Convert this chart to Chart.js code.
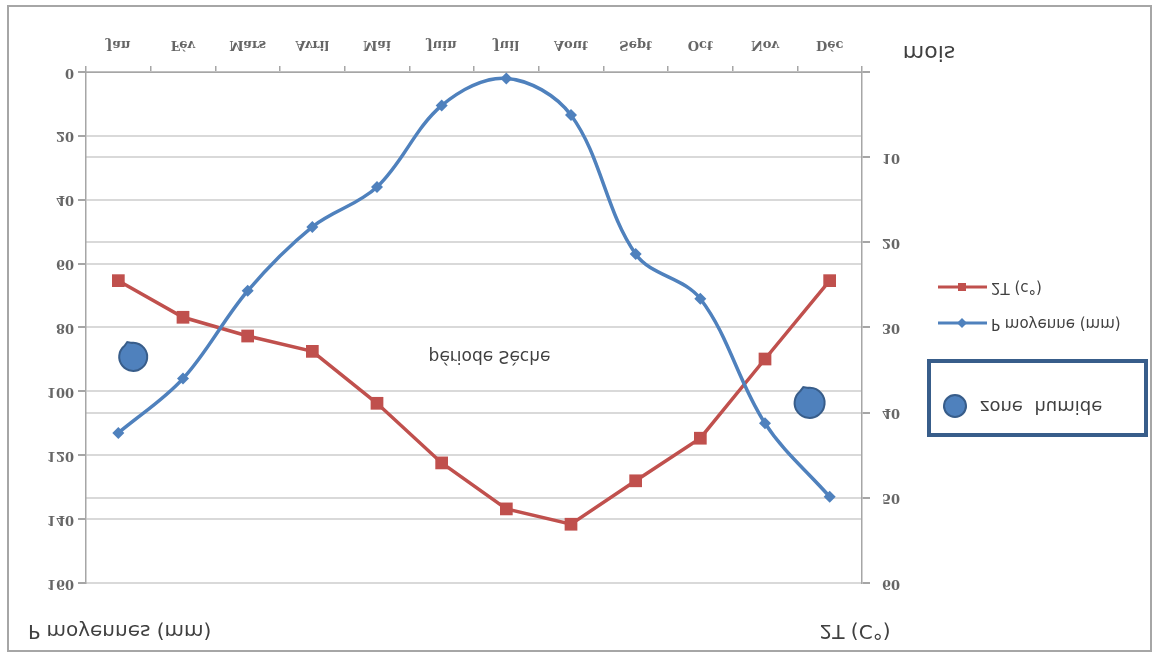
<!DOCTYPE html>
<html>
<head>
<meta charset="utf-8">
<script src="https://cdn.jsdelivr.net/npm/chart.js@4/dist/chart.umd.min.js"></script>
<style>
  body { margin: 0; background: #fff; }
  #wrap { width: 1156px; height: 657px; transform: scaleY(-1); }
</style>
</head>
<body>
<div id="wrap"><canvas id="myChart"></canvas></div>
<script>
const months = ["Jan", "Fév", "Mars", "Avril", "Mai", "Juin", "Juil", "Aout", "Sept", "Oct", "Nov", "Déc"];
const pluie = [113, 96, 68.5, 48.5, 36, 10.5, 2, 13.5, 57, 71, 110, 133];
const deuxT = [24.5, 28.8, 31, 32.8, 38.9, 45.9, 51.3, 53.1, 48, 43, 33.7, 24.5];
const pTicks = [0, 20, 40, 60, 80, 100, 120, 140, 160];
const tTicks = [0, 10, 20, 30, 40, 50, 60];

const blue = "#4f81bd";
const red = "#c0504d";
const axisGray = "#a6a6a6";
const gridGray = "#d9d9d9";

// little drop shaped circle, like the excel shape
function drop(ctx, cx, cy, r) {
  const a = Math.atan2(20, -8);
  ctx.beginPath();
  ctx.arc(cx, cy, r, a + 0.3, a - 0.3 + Math.PI * 2);
  ctx.lineTo(cx + Math.cos(a) * (r + 2), cy + Math.sin(a) * (r + 2));
  ctx.closePath();
  ctx.fillStyle = blue;
  ctx.fill();
  ctx.strokeStyle = "#385d8a";
  ctx.lineWidth = 2;
  ctx.stroke();
}

const decor = {
  id: "decor",
  afterDraw(chart) {
    const { ctx } = chart;
    const x = chart.scales.x;
    const yP = chart.scales.yP;
    ctx.save();

    ctx.strokeStyle = axisGray;
    ctx.lineWidth = 2;
    ctx.strokeRect(8, 6, 1143, 645);

    ctx.fillStyle = "#404040";
    ctx.textBaseline = "middle";
    ctx.font = '20px "DejaVu Sans"';
    ctx.textAlign = "left";
    ctx.fillText("P moyennes (mm)", 28, 27);
    ctx.textAlign = "center";
    ctx.fillText("2T (C°)", 855, 27);
    ctx.font = '22px "DejaVu Sans"';
    ctx.fillText("mois", 929, 605);

    ctx.font = '17px "DejaVu Sans"';
    ctx.fillText("période Sèche", x.getPixelForValue(5.74), yP.getPixelForValue(88.6));

    drop(ctx, x.getPixelForValue(0.23), yP.getPixelForValue(89.2), 14);
    drop(ctx, x.getPixelForValue(10.69), yP.getPixelForValue(103.6), 15);

    // legend
    ctx.lineWidth = 3;
    ctx.strokeStyle = red;
    ctx.beginPath(); ctx.moveTo(938, 370); ctx.lineTo(987, 370); ctx.stroke();
    ctx.fillStyle = red;
    ctx.fillRect(958, 366, 8, 8);
    ctx.strokeStyle = blue;
    ctx.beginPath(); ctx.moveTo(938, 334); ctx.lineTo(987, 334); ctx.stroke();
    ctx.fillStyle = blue;
    ctx.beginPath();
    ctx.moveTo(962, 329); ctx.lineTo(967, 334); ctx.lineTo(962, 339); ctx.lineTo(957, 334);
    ctx.closePath(); ctx.fill();
    ctx.fillStyle = "#404040";
    ctx.font = '15px "DejaVu Sans"';
    ctx.textAlign = "left";
    ctx.fillText("2T (c°)", 991, 370);
    ctx.fillText("P moyenne (mm)", 991, 334);

    // zone humide box
    ctx.strokeStyle = "#385d8a";
    ctx.lineWidth = 4;
    ctx.strokeRect(929, 222, 217, 74);
    ctx.beginPath();
    ctx.arc(955, 251, 11, 0, Math.PI * 2);
    ctx.fillStyle = blue;
    ctx.fill();
    ctx.lineWidth = 2;
    ctx.stroke();
    ctx.fillStyle = "#404040";
    ctx.font = '18px "DejaVu Sans"';
    ctx.fillText("zone  humide", 980, 251);

    ctx.restore();
  },
};

const tickFont = { family: "DejaVu Serif", size: 13, weight: "bold" };

new Chart(document.getElementById("myChart"), {
  type: "line",
  data: {
    labels: months,
    datasets: [
      {
        label: "P moyenne (mm)",
        data: pluie,
        yAxisID: "yP",
        borderColor: blue,
        backgroundColor: blue,
        borderWidth: 3.5,
        tension: 0.35,
        pointStyle: "rectRot",
        pointRadius: 6,
        pointBorderWidth: 0,
      },
      {
        label: "2T (c°)",
        data: deuxT,
        yAxisID: "yT",
        borderColor: red,
        backgroundColor: red,
        borderWidth: 3.5,
        tension: 0,
        pointStyle: "rect",
        pointRadius: 9,
        pointBorderWidth: 0,
      },
    ],
  },
  options: {
    responsive: true,
    maintainAspectRatio: false,
    animation: false,
    layout: { padding: { top: 74, right: 234, bottom: 0, left: 0 } },
    plugins: {
      legend: { display: false },
      tooltip: { enabled: false },
    },
    scales: {
      x: {
        offset: true,
        grid: { drawOnChartArea: false, offset: true, tickLength: 6, color: axisGray, lineWidth: 1.5 },
        border: { color: axisGray, width: 1.5 },
        ticks: { font: tickFont, color: "#666", padding: 14, maxRotation: 0 },
        afterFit: (s) => { s.height = 72; },
      },
      yP: {
        position: "left",
        min: pTicks[0],
        max: pTicks[pTicks.length - 1],
        afterBuildTicks: (s) => { s.ticks = pTicks.map((v) => ({ value: v })); },
        grid: { color: gridGray, lineWidth: 2, tickColor: axisGray, tickLength: 8 },
        border: { color: axisGray, width: 1.5 },
        ticks: { font: tickFont, color: "#666", padding: 4 },
        afterFit: (s) => { s.width = 86; },
      },
      yT: {
        position: "right",
        min: tTicks[0],
        max: tTicks[tTicks.length - 1],
        afterBuildTicks: (s) => { s.ticks = tTicks.map((v) => ({ value: v })); },
        grid: { color: gridGray, lineWidth: 2, tickColor: axisGray, tickLength: 8 },
        border: { color: axisGray, width: 1.5 },
        ticks: {
          font: tickFont,
          color: "#666",
          padding: 12,
          callback: (v) => (v === 0 ? "" : v),
        },
        afterFit: (s) => { s.width = 60; },
      },
    },
  },
  plugins: [decor],
});
</script>
</body>
</html>
